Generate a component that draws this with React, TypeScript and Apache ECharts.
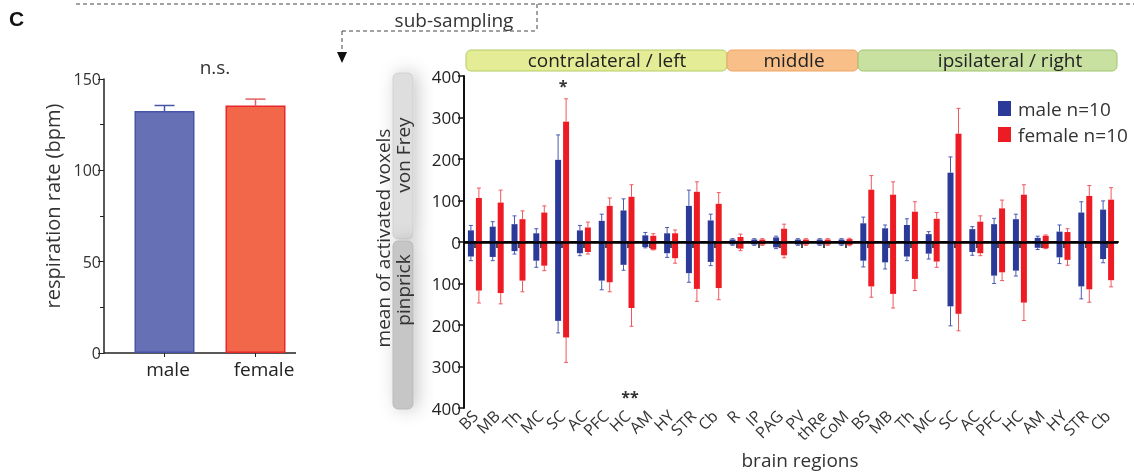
import React, { useEffect, useRef } from "react";
import * as echarts from "echarts";

const regions = ["BS","MB","Th","MC","SC","AC","PFC","HC","AM","HY","STR","Cb","R","IP","PAG","PV","thRe","CoM","BS","MB","Th","MC","SC","AC","PFC","HC","AM","HY","STR","Cb"];
const maleVonFrey = [28,37,43,21,198,28,51,76,16,21,87,52, 6,6,11,6,6,6, 45,33,41,19,167,31,43,55,10,25,71,78];
const maleVonFreyErr = [40,49,63,32,258,40,67,104,23,35,125,67, 8,8,14,8,8,8, 60,41,56,25,205,37,57,67,14,41,97,99];
const femaleVonFrey = [106,95,55,71,290,35,87,109,15,21,121,92, 12,6,32,6,6,7, 126,114,73,56,261,49,81,114,15,24,111,102];
const femaleVonFreyErr = [130,125,75,87,345,48,106,138,20,29,145,119, 19,8,43,8,8,9, 160,145,97,71,322,63,101,138,17,32,136,131];
const malePinprick = [35,36,22,45,190,27,93,55,12,27,75,48, 6,6,13,6,6,6, 45,49,35,28,155,24,81,69,14,37,107,41];
const malePinprickErr = [45,45,29,61,219,33,115,68,14,37,97,57, 8,8,16,8,8,8, 60,65,45,41,202,32,100,82,18,52,137,50];
const femalePinprick = [117,123,93,57,230,24,97,159,18,39,113,111, 16,6,32,6,6,7, 107,125,89,47,173,27,73,146,15,43,114,92];
const femalePinprickErr = [147,149,120,69,290,29,120,203,19,51,143,139, 21,8,38,8,8,9, 133,159,117,61,214,33,93,189,16,56,145,108];

const sexes = ["male", "female"];
const respiration = [132.5, 135.5];
const respirationErr = [135.5, 139];

const FONT = "Open Sans";
const BLUE = "#2b3a98";
const RED = "#ed1c24";

function errSeries(name: string, vals: number[], errs: number[], sign: number, offset: number, color: string, half: number, xIdx: number, yIdx: number) {
  return {
    type: "custom",
    name,
    xAxisIndex: xIdx,
    yAxisIndex: yIdx,
    silent: true,
    z: 1,
    data: vals.map((v, i) => [i, sign * v, sign * errs[i]]),
    encode: { x: 0, y: [1, 2] },
    renderItem: (params: any, api: any) => {
      const i = api.value(0);
      const p1 = api.coord([i, api.value(1)]);
      const p2 = api.coord([i, api.value(2)]);
      const cx = p1[0] + offset;
      const style = { stroke: color, lineWidth: 1 };
      return {
        type: "group",
        children: [
          { type: "line", shape: { x1: cx, y1: p1[1], x2: cx, y2: p2[1] }, style },
          { type: "line", shape: { x1: cx - half, y1: p2[1], x2: cx + half, y2: p2[1] }, style },
        ],
      };
    },
  };
}

export default function App() {
  const ref = useRef<HTMLDivElement>(null);
  useEffect(() => {
    if (!ref.current) return;
    const chart = echarts.init(ref.current, undefined, { renderer: "svg" });
    const dash = { stroke: "#444", lineWidth: 1, lineDash: [4, 3] };
    const option: any = {
      animation: false,
      textStyle: { fontFamily: FONT },
      grid: [
        { left: 119, width: 182, top: 79, height: 274 },
        { left: 464, width: 654, top: 76, height: 336 },
      ],
      legend: {
        data: ["male n=10", "female n=10"],
        orient: "vertical",
        left: 993,
        top: 94,
        itemWidth: 13,
        itemHeight: 15,
        itemGap: 7,
        icon: "rect",
        textStyle: { fontFamily: FONT, fontSize: 19, color: "#333", padding: [0, 0, 0, 2] },
      },
      xAxis: [
        {
          gridIndex: 0,
          type: "category",
          data: sexes,
          axisLine: { show: false },
          axisTick: { show: true, alignWithLabel: true, length: 4, lineStyle: { color: "#222" } },
          axisLabel: {
            interval: 0,
            fontFamily: FONT, fontSize: 19, color: "#222", margin: 6,
            formatter: (v: string) => (v === "male" ? "{m|male}" : "{f|female}"),
            rich: {
              m: { fontFamily: FONT, fontSize: 19, color: "#222", padding: [0, 0, 0, 7] },
              f: { fontFamily: FONT, fontSize: 19, color: "#222", padding: [0, 0, 0, 17] },
            },
          },
        },
        {
          gridIndex: 1,
          type: "category",
          data: regions,
          name: "brain regions",
          nameLocation: "middle",
          nameGap: 40,
          nameTextStyle: { fontFamily: FONT, fontSize: 19, color: "#333", padding: [0, 0, 0, 18] },
          axisLine: { show: true, lineStyle: { color: "#111", width: 2 } },
          axisTick: { show: true, alignWithLabel: true, length: 6, lineStyle: { color: "#111", width: 1.5 } },
          axisLabel: { fontFamily: FONT, fontSize: 16, color: "#333", rotate: 45, margin: 5, interval: 0 },
        },
      ],
      yAxis: [
        {
          gridIndex: 0,
          type: "value",
          min: 0,
          max: 150,
          interval: 50,
          offset: 15,
          axisLine: { show: true, lineStyle: { color: "#222", width: 1.5 } },
          axisTick: { show: true, length: 6, lineStyle: { color: "#222" } },
          minorTick: { show: true, splitNumber: 2, length: 4, lineStyle: { color: "#222" } },
          splitLine: { show: false },
          axisLabel: { fontFamily: FONT, fontSize: 16, color: "#333", margin: 3 },
        },
        {
          gridIndex: 1,
          type: "value",
          min: -400,
          max: 400,
          interval: 100,
          axisLine: { show: true, lineStyle: { color: "#111", width: 2 } },
          axisTick: { show: true, length: 6, lineStyle: { color: "#111", width: 1.5 } },
          splitLine: { show: false },
          axisLabel: {
            fontFamily: FONT, fontSize: 17, color: "#222", margin: 3,
            formatter: (v: number) => String(Math.abs(v)),
          },
        },
      ],
      series: [
        {
          type: "bar",
          name: "respiration",
          xAxisIndex: 0,
          yAxisIndex: 0,
          barWidth: 60,
          data: respiration.map((v, i) => ({
            value: v,
            itemStyle: i === 0
              ? { color: "#6570b5", borderColor: "#4655a6", borderWidth: 1.5 }
              : { color: "#f26649", borderColor: "#e8262b", borderWidth: 1.5 },
          })),
        },
        {
          type: "custom",
          name: "respErr",
          xAxisIndex: 0,
          yAxisIndex: 0,
          silent: true,
          data: respiration.map((v, i) => [i, v, respirationErr[i]]),
          encode: { x: 0, y: [1, 2] },
          renderItem: (params: any, api: any) => {
            const i = api.value(0);
            const p1 = api.coord([i, api.value(1)]);
            const p2 = api.coord([i, api.value(2)]);
            const color = i === 0 ? "#4655a6" : "#e06060";
            const style = { stroke: color, lineWidth: 1.5 };
            return {
              type: "group",
              children: [
                { type: "line", shape: { x1: p1[0], y1: p1[1], x2: p1[0], y2: p2[1] }, style },
                { type: "line", shape: { x1: p1[0] - 10, y1: p2[1], x2: p1[0] + 10, y2: p2[1] }, style },
              ],
            };
          },
        },
        {
          type: "bar", name: "male n=10", xAxisIndex: 1, yAxisIndex: 1, stack: "m",
          barWidth: 6, barGap: "33%", itemStyle: { color: BLUE }, data: maleVonFrey, z: 2,
          markLine: {
            silent: true, symbol: "none", label: { show: false },
            lineStyle: { color: "#000", width: 2.5, type: "solid" },
            data: [{ yAxis: 0 }],
          },
        },
        {
          type: "bar", name: "male pinprick", xAxisIndex: 1, yAxisIndex: 1, stack: "m",
          barWidth: 6, barGap: "33%", itemStyle: { color: BLUE }, data: malePinprick.map((v) => -v), z: 2,
        },
        {
          type: "bar", name: "female n=10", xAxisIndex: 1, yAxisIndex: 1, stack: "f",
          barWidth: 6, barGap: "33%", itemStyle: { color: RED }, data: femaleVonFrey, z: 2,
        },
        {
          type: "bar", name: "female pinprick", xAxisIndex: 1, yAxisIndex: 1, stack: "f",
          barWidth: 6, barGap: "33%", itemStyle: { color: RED }, data: femalePinprick.map((v) => -v), z: 2,
        },
        errSeries("maleVFerr", maleVonFrey, maleVonFreyErr, 1, -4, "#4b5ab2", 2, 1, 1),
        errSeries("malePPerr", malePinprick, malePinprickErr, -1, -4, "#4b5ab2", 2, 1, 1),
        errSeries("femaleVFerr", femaleVonFrey, femaleVonFreyErr, 1, 4, "#f0585e", 2, 1, 1),
        errSeries("femalePPerr", femalePinprick, femalePinprickErr, -1, 4, "#f0585e", 2, 1, 1),
      ],
      graphic: [
        { type: "text", left: 9, top: 8, style: { text: "C", font: "bold 21px Arial", fill: "#111" } },
        { type: "line", shape: { x1: 76, y1: 4, x2: 1134, y2: 4 }, style: dash },
        { type: "line", shape: { x1: 537, y1: 4, x2: 537, y2: 31 }, style: dash },
        { type: "line", shape: { x1: 342, y1: 31, x2: 537, y2: 31 }, style: dash },
        { type: "line", shape: { x1: 342, y1: 31, x2: 342, y2: 52 }, style: dash },
        { type: "polygon", shape: { points: [[337, 52], [347, 52], [342, 63]] }, style: { fill: "#111" } },
        { type: "text", x: 454, y: 20, style: { text: "sub-sampling", font: `19px "${FONT}"`, fill: "#333", align: "center", verticalAlign: "middle" } },
        { type: "text", x: 215, y: 67, style: { text: "n.s.", font: `19px "${FONT}"`, fill: "#333", align: "center", verticalAlign: "middle" } },
        { type: "text", x: 52, y: 206, rotation: Math.PI / 2, style: { text: "respiration rate (bpm)", font: `20px "${FONT}"`, fill: "#333", align: "center", verticalAlign: "middle" } },
        { type: "line", shape: { x1: 104, y1: 353, x2: 296, y2: 353 }, style: { stroke: "#222", lineWidth: 1.5 } },
        // side boxes
        { type: "rect", shape: { x: 393, y: 73, width: 20, height: 166, r: 5 }, style: { fill: "#dedede", stroke: "#cfcfcf", lineWidth: 1, shadowBlur: 18, shadowColor: "rgba(0,0,0,0.22)", shadowOffsetX: 4 } },
        { type: "rect", shape: { x: 393, y: 241, width: 20, height: 168, r: 5 }, style: { fill: "#c6c6c6", stroke: "#b8b8b8", lineWidth: 1, shadowBlur: 18, shadowColor: "rgba(0,0,0,0.22)", shadowOffsetX: 4 } },
        { type: "text", x: 403, y: 155, rotation: Math.PI / 2, style: { text: "von Frey", font: `19px "${FONT}"`, fill: "#333", align: "center", verticalAlign: "middle" } },
        { type: "text", x: 403, y: 290, rotation: Math.PI / 2, style: { text: "pinprick", font: `19px "${FONT}"`, fill: "#333", align: "center", verticalAlign: "middle" } },
        { type: "text", x: 383, y: 238, rotation: Math.PI / 2, style: { text: "mean of activated voxels", font: `19px "${FONT}"`, fill: "#333", align: "center", verticalAlign: "middle" } },
        // region bands
        { type: "rect", shape: { x: 466, y: 50, width: 261, height: 21, r: 5 }, style: { fill: "#e5ec96", stroke: "#b3cc66", lineWidth: 1 } },
        { type: "rect", shape: { x: 727, y: 50, width: 131, height: 21, r: 5 }, style: { fill: "#f8bf88", stroke: "#eda565", lineWidth: 1 } },
        { type: "rect", shape: { x: 858, y: 50, width: 259, height: 21, r: 5 }, style: { fill: "#c8e1a0", stroke: "#9fc46c", lineWidth: 1 } },
        { type: "text", x: 607, y: 60, style: { text: "contralateral / left", font: `19px "${FONT}"`, fill: "#222", align: "center", verticalAlign: "middle" } },
        { type: "text", x: 794, y: 60, style: { text: "middle", font: `19px "${FONT}"`, fill: "#222", align: "center", verticalAlign: "middle" } },
        { type: "text", x: 1010, y: 60, style: { text: "ipsilateral / right", font: `19px "${FONT}"`, fill: "#222", align: "center", verticalAlign: "middle" } },
        // significance
        { type: "text", x: 563, y: 86, style: { text: "*", font: `bold 16px "${FONT}"`, fill: "#333", align: "center", verticalAlign: "middle" } },
        { type: "text", x: 630, y: 397, style: { text: "**", font: `bold 16px "${FONT}"`, fill: "#333", align: "center", verticalAlign: "middle" } },
      ],
    };
    chart.setOption(option);
    return () => chart.dispose();
  }, []);
  return <div ref={ref} style={{ position: "fixed", left: 0, top: 0, width: 1134, height: 474 }} />;
}
